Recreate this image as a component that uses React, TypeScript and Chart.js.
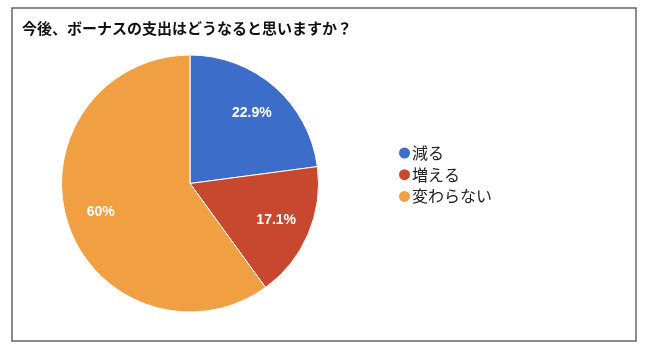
import React, { useEffect, useRef } from "react";
import { Chart, registerables } from "chart.js";

Chart.register(...registerables);

const titleText = "今後、ボーナスの支出はどうなると思いますか？";
const categories = ["減る", "増える", "変わらない"];
const values = [22.9, 17.1, 60];
const colors = ["#3c6ec9", "#c8482f", "#f0a042"];

const W = 650;
const H = 354;

const decoPlugin = {
  id: "deco",
  beforeDraw(chart: any) {
    const ctx = chart.ctx;
    ctx.save();
    ctx.fillStyle = "#ffffff";
    ctx.fillRect(0, 0, W, H);
    ctx.strokeStyle = "#6e6e6e";
    ctx.lineWidth = 1.6;
    ctx.strokeRect(12, 8, 624, 333);
    ctx.fillStyle = "#111111";
    ctx.font = "bold 15px 'Noto Sans CJK JP', sans-serif";
    ctx.textBaseline = "middle";
    ctx.textAlign = "left";
    ctx.fillText(titleText, 22, 28.5);
    ctx.restore();
  },
  afterDatasetsDraw(chart: any) {
    const ctx = chart.ctx;
    const meta = chart.getDatasetMeta(0);
    const data = chart.data.datasets[0].data as number[];
    ctx.save();
    ctx.fillStyle = "#ffffff";
    ctx.font = "bold 14px 'Liberation Sans', Arial, sans-serif";
    ctx.textAlign = "center";
    ctx.textBaseline = "middle";
    meta.data.forEach((arc: any, i: number) => {
      const p = arc.getProps(["x", "y", "startAngle", "endAngle", "outerRadius"], true);
      const mid = (p.startAngle + p.endAngle) / 2;
      const r = p.outerRadius * 0.73;
      ctx.fillText(`${data[i]}%`, p.x + Math.cos(mid) * r, p.y + Math.sin(mid) * r);
    });
    ctx.restore();
  },
  afterDraw(chart: any) {
    const ctx = chart.ctx;
    const labels = chart.data.labels as string[];
    const bg = chart.data.datasets[0].backgroundColor as string[];
    ctx.save();
    ctx.font = "16px 'Noto Sans CJK JP', sans-serif";
    ctx.textBaseline = "middle";
    ctx.textAlign = "left";
    labels.forEach((lab, i) => {
      const y = 153 + i * 21.7;
      ctx.beginPath();
      ctx.arc(404.5, y, 5.5, 0, Math.PI * 2);
      ctx.fillStyle = bg[i];
      ctx.fill();
      ctx.fillStyle = "#222222";
      ctx.fillText(lab, 412, y);
    });
    ctx.restore();
  },
};

export default function App() {
  const ref = useRef<HTMLCanvasElement>(null);
  useEffect(() => {
    if (!ref.current) return;
    const chart = new Chart(ref.current, {
      type: "pie",
      data: {
        labels: categories,
        datasets: [
          {
            data: values,
            backgroundColor: colors,
            borderColor: "#ffffff",
            borderWidth: 1,
          },
        ],
      },
      options: {
        responsive: false,
        animation: false,
        layout: { padding: { left: 61, right: 331, top: 54.5, bottom: 41.5 } },
        plugins: {
          legend: { display: false },
          title: { display: false },
          tooltip: { enabled: false },
        },
      },
      plugins: [decoPlugin],
    });
    return () => chart.destroy();
  }, []);
  return (
    <div style={{ position: "fixed", left: 0, top: 0, width: W, height: H, background: "#fff" }}>
      <canvas ref={ref} width={W} height={H} style={{ width: W, height: H, display: "block" }} />
    </div>
  );
}
